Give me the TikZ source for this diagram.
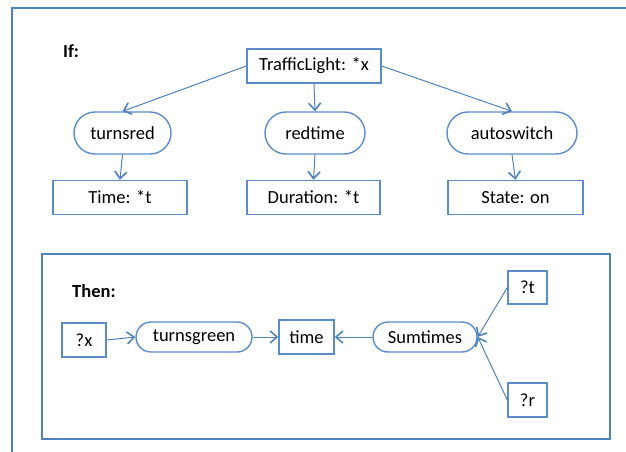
\documentclass[tikz,border=0pt]{standalone}
\usepackage{fontspec}
\setmainfont{Carlito}
\usetikzlibrary{shapes.misc,arrows.meta}
\definecolor{ofblue}{RGB}{79,129,189}
\definecolor{nodeblue}{RGB}{92,140,200}
\begin{document}
\begin{tikzpicture}[x=1pt,y=-1pt,
  every node/.style={font=\fontsize{18.5}{21}\selectfont, text=black},
  boxnode/.style={draw=nodeblue, line width=1.4pt, rectangle, inner sep=0pt, minimum height=34pt},
  pillnode/.style={draw=nodeblue, line width=1.4pt, rounded rectangle, inner sep=0pt},
  lbl/.style={font=\fontsize{18.5}{21}\selectfont\bfseries, anchor=base west, inner sep=0pt},
  frame/.style={draw=ofblue, line width=2.5pt},
  link/.style={draw=ofblue, line width=1pt, -{Straight Barb[length=7pt,width=12pt,line width=1.6pt]}}
]
\useasboundingbox (0,0) rectangle (626,452);
% outer frame (cut off at right and bottom)
\coordinate (otr) at (626,8);
\coordinate (otl) at (12,8);
\coordinate (obl) at (12,452);
\draw[frame] (otr) -- (otl) -- (obl);
% inner frame
\coordinate (itl) at (42,254);
\coordinate (ibr) at (610,439);
\draw[frame] (itl) rectangle (ibr);

\node[lbl] (iflbl) at (63,57) {If:};
\node[lbl] (thenlbl) at (72,297) {Then:};

% If part
\node[boxnode, minimum width=134pt] (tl) at (314,66) {TrafficLight: *x};
\node[pillnode, minimum width=97pt, minimum height=42pt] (tr) at (122.5,133) {turnsred};
\node[pillnode, minimum width=100pt, minimum height=42pt] (rt) at (315,133) {redtime};
\node[pillnode, minimum width=130pt, minimum height=42pt] (as) at (512,133) {autoswitch};
\node[boxnode, minimum width=134pt] (tt) at (120,197.5) {Time: *t};
\node[boxnode, minimum width=133pt] (du) at (313.5,197.5) {Duration: *t};
\node[boxnode, minimum width=135pt] (st) at (515.5,197.5) {State: on};

\draw[link] (tl.west) -- (tr.north);
\draw[link] (tl.south) -- (rt.north);
\draw[link] (tl.east) -- (as.north);
\draw[link] (tr.south) -- (tt.north);
\draw[link] (rt.south) -- (du.north);
\draw[link] (as.south) -- (st.north);

% Then part
\node[boxnode, minimum width=44pt] (px) at (84,340) {?x};
\node[pillnode, minimum width=116pt, minimum height=30pt] (tg) at (194,337) {turnsgreen};
\node[boxnode, minimum width=55pt] (tm) at (306.5,337) {time};
\node[pillnode, minimum width=104pt, minimum height=30pt] (sm) at (425,337) {Sumtimes};
\node[boxnode, minimum width=39pt, minimum height=33pt] (pt) at (527.5,287.5) {?t};
\node[boxnode, minimum width=39pt] (pr) at (527.5,400) {?r};

\draw[link] (px.east) -- (tg.west);
\draw[link] (tg.east) -- (tm.west);
\draw[link] (sm.west) -- (tm.east);
\draw[link] (pt.west) -- (sm.east);
\draw[link] (pr.west) -- (sm.east);
\end{tikzpicture}
\end{document}
